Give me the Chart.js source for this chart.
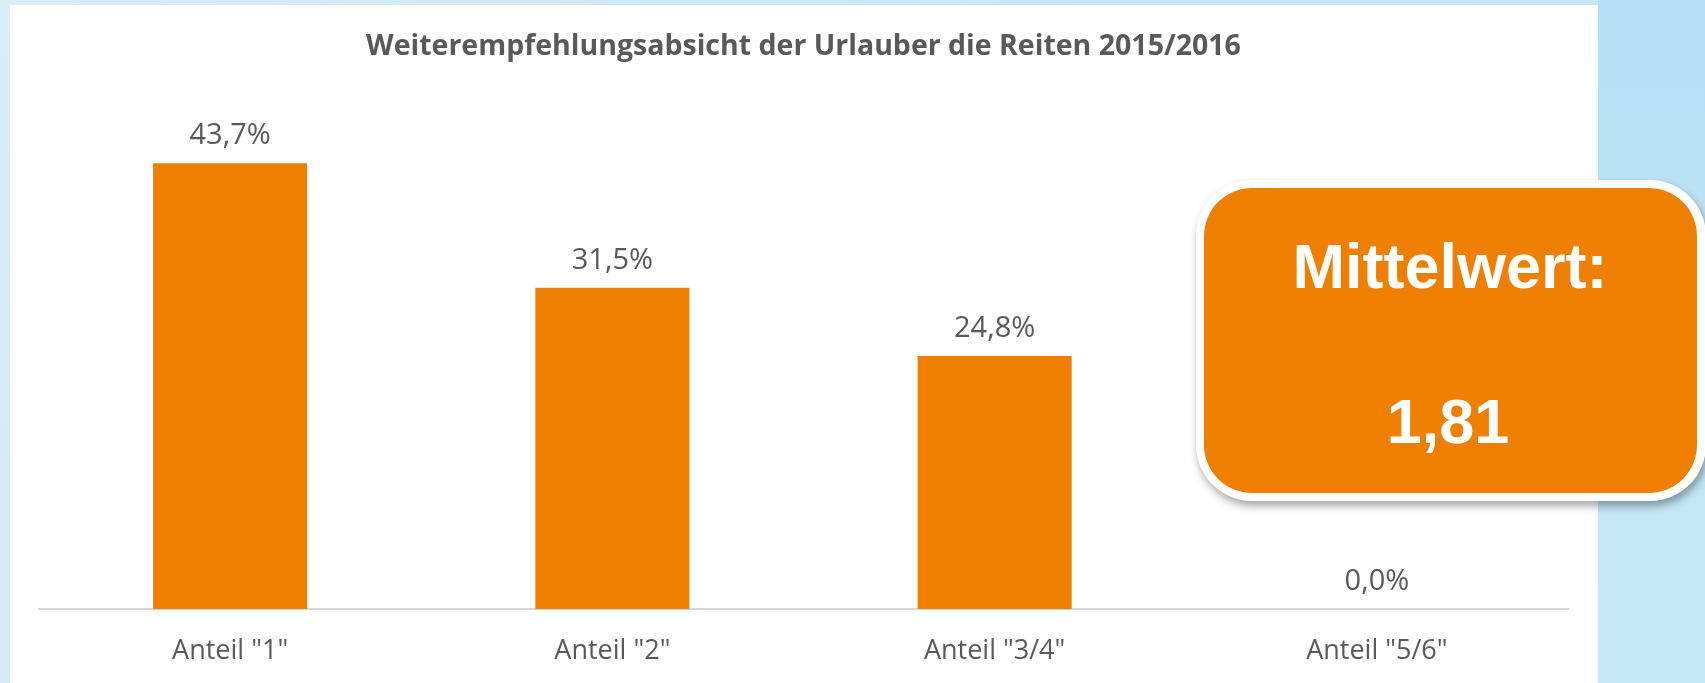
<!DOCTYPE html>
<html>
<head>
<meta charset="utf-8">
<script src="https://cdn.jsdelivr.net/npm/chart.js@4/dist/chart.umd.min.js"></script>
<style>
  html, body { margin: 0; padding: 0; overflow: hidden; background: #cde9f8; }
  #wrap { position: relative; width: 1705px; height: 683px; }
  canvas { display: block; }
</style>
</head>
<body>
<div id="wrap"><canvas id="chart" width="1705" height="683"></canvas></div>
<script>
// Survey results: share of holiday riders per recommendation grade
const categories = ['Anteil "1"', 'Anteil "2"', 'Anteil "3/4"', 'Anteil "5/6"'];
const shares = [43.7, 31.5, 24.8, 0.0];
const yMax = 50;
const titleText = 'Weiterempfehlungsabsicht der Urlauber die Reiten 2015/2016';
const meanCaption = 'Mittelwert:';
const meanValue = 1.81;

const BAR_COLOR = '#ef7f00';
const TEXT_GREY = '#595959';

const fmtPct = v => v.toFixed(1).replace('.', ',') + '%';

function roundRect(ctx, x, y, w, h, r) {
  ctx.beginPath();
  ctx.moveTo(x + r, y);
  ctx.lineTo(x + w - r, y);
  ctx.arcTo(x + w, y, x + w, y + r, r);
  ctx.lineTo(x + w, y + h - r);
  ctx.arcTo(x + w, y + h, x + w - r, y + h, r);
  ctx.lineTo(x + r, y + h);
  ctx.arcTo(x, y + h, x, y + h - r, r);
  ctx.lineTo(x, y + r);
  ctx.arcTo(x, y, x + r, y, r);
  ctx.closePath();
}

// Light blue slide backdrop with the white chart panel
const backdrop = {
  id: 'backdrop',
  beforeDraw(chart) {
    const { ctx, width, height } = chart;
    ctx.save();
    const g = ctx.createLinearGradient(0, 0, width, height);
    g.addColorStop(0, '#d8eef9');
    g.addColorStop(0.6, '#c4e6f7');
    g.addColorStop(1, '#c9e8f7');
    ctx.fillStyle = g;
    ctx.fillRect(0, 0, width, height);
    const g2 = ctx.createLinearGradient(0, 0, 0, height);
    g2.addColorStop(0, '#b5e0f4');
    g2.addColorStop(1, '#c9e8f7');
    ctx.fillStyle = g2;
    ctx.fillRect(1598, 0, width - 1598, height);
    ctx.fillStyle = '#ffffff';
    ctx.fillRect(10, 5, 1588, height - 5);
    ctx.restore();
  }
};

// Percentage labels above each bar
const valueLabels = {
  id: 'valueLabels',
  afterDatasetsDraw(chart) {
    const { ctx } = chart;
    const meta = chart.getDatasetMeta(0);
    ctx.save();
    ctx.font = '29px "Open Sans"';
    ctx.fillStyle = TEXT_GREY;
    ctx.textAlign = 'center';
    ctx.textBaseline = 'alphabetic';
    meta.data.forEach((bar, i) => {
      ctx.fillText(fmtPct(shares[i]), bar.x, bar.y - 19);
    });
    ctx.restore();
  }
};

// Rounded call-out with the mean grade
const meanBox = {
  id: 'meanBox',
  afterDraw(chart) {
    const { ctx } = chart;
    ctx.save();
    ctx.shadowColor = 'rgba(0,0,0,0.35)';
    ctx.shadowBlur = 9;
    ctx.shadowOffsetX = 2;
    ctx.shadowOffsetY = 5;
    ctx.fillStyle = '#ffffff';
    roundRect(ctx, 1196, 180, 510, 321, 56);
    ctx.fill();
    ctx.shadowColor = 'transparent';
    ctx.fillStyle = BAR_COLOR;
    roundRect(ctx, 1204, 188, 493, 305, 48);
    ctx.fill();
    ctx.fillStyle = '#ffffff';
    ctx.textAlign = 'center';
    ctx.textBaseline = 'alphabetic';
    ctx.font = 'bold 63px "Liberation Sans", Arial, sans-serif';
    ctx.fillText(meanCaption, 1450, 288);
    ctx.fillText(meanValue.toFixed(2).replace('.', ','), 1448, 443);
    ctx.restore();
  }
};

new Chart(document.getElementById('chart'), {
  type: 'bar',
  data: {
    labels: categories,
    datasets: [{
      data: shares,
      backgroundColor: BAR_COLOR,
      borderWidth: 0,
      categoryPercentage: 1,
      barPercentage: 0.403
    }]
  },
  options: {
    responsive: false,
    animation: false,
    devicePixelRatio: 1,
    layout: { padding: { left: 39, right: 137, top: 30, bottom: 0 } },
    plugins: {
      legend: { display: false },
      tooltip: { enabled: false },
      title: {
        display: true,
        text: titleText,
        color: TEXT_GREY,
        font: { family: 'Open Sans', size: 28.5, weight: 'bold', lineHeight: 1.2 },
        padding: { top: 0, bottom: 34.8 }
      }
    },
    scales: {
      x: {
        grid: { display: false, drawTicks: false },
        border: { display: true, color: '#d6d6d6', width: 2 },
        ticks: {
          color: TEXT_GREY,
          padding: 26,
          font: { family: 'Open Sans', size: 27, lineHeight: 1.2 }
        },
        afterFit(scale) { scale.height = 74; }
      },
      y: {
        display: false,
        min: 0,
        max: yMax,
        grid: { display: false }
      }
    }
  },
  plugins: [backdrop, valueLabels, meanBox]
});
</script>
</body>
</html>
